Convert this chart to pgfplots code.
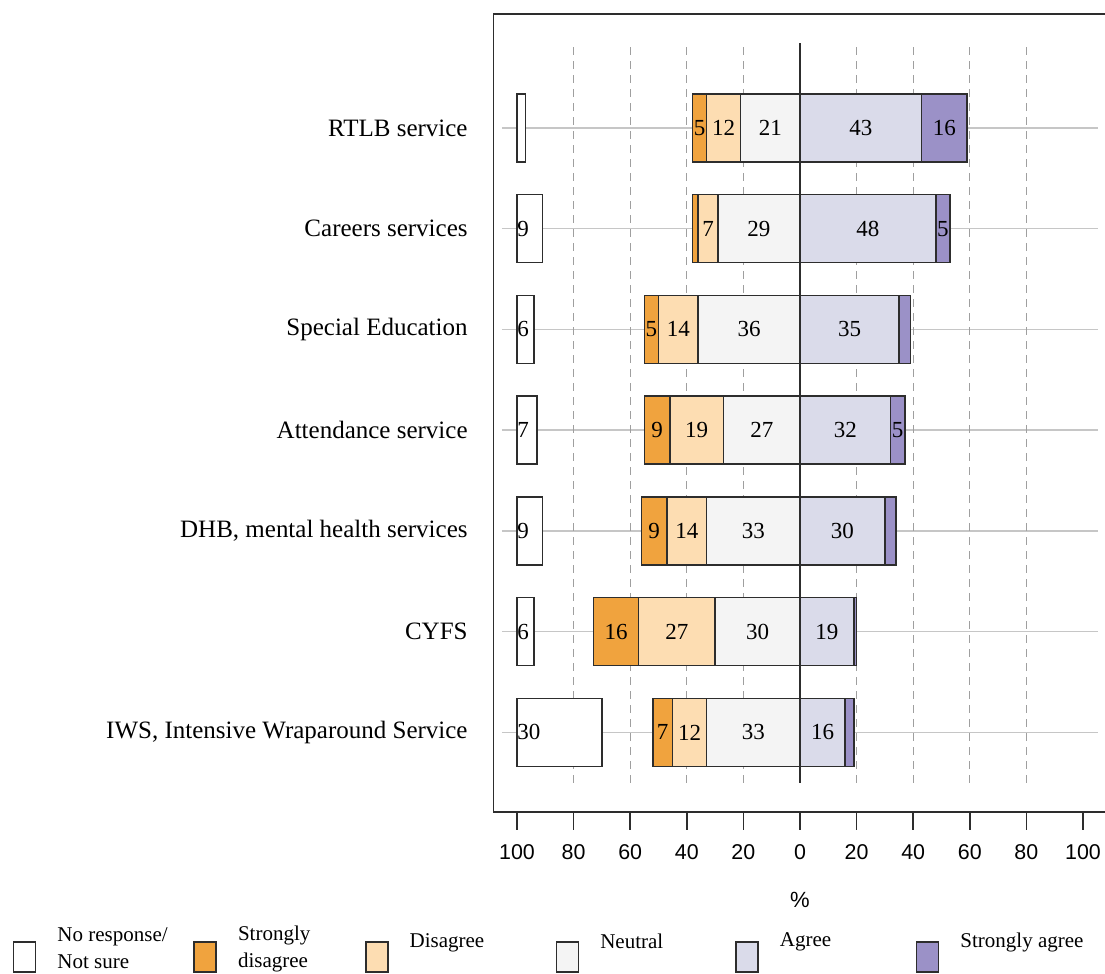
\documentclass[border=0pt]{standalone}
\usepackage{fontspec}
\setmainfont{Liberation Serif}
\setsansfont{Liberation Sans}
\usepackage{pgfplots}
\pgfplotsset{compat=1.18}
\usepackage{pgfplotstable}
\usetikzlibrary{calc}

\definecolor{sdis}{RGB}{240,163,62}
\definecolor{dis}{RGB}{253,221,178}
\definecolor{neu}{RGB}{244,244,244}
\definecolor{agr}{RGB}{218,219,234}
\definecolor{sagr}{RGB}{155,145,199}
\definecolor{edge}{RGB}{45,45,45}

% y: RTLB at top (6) down to IWS (0); values in %
\pgfplotstableread{
y NR SD D N A SA
6 3 5 12 21 43 16
5 9 2 7 29 48 5
4 6 5 14 36 35 4
3 7 9 19 27 32 5
2 9 9 14 33 30 4
1 6 16 27 30 19 1
0 30 7 12 33 16 3
}\likert

\tikzset{
  seg/.style={draw=edge, line width=0.8pt, fill=#1},
}
\pgfplotsset{
  frame/.style={at={(0,0)}, anchor=south west, scale only axis,
    width=306.5pt, height=399pt,
    xmin=-108.3, xmax=108.3, ymin=-0.79, ymax=7.13},
  barp/.style={xbar, bar width=0.675, bar shift=0pt, seg=#1},
  lab/.style={draw=none, forget plot, point meta=explicit symbolic,
    nodes near coords={\ifnum\pgfplotspointmeta<5 \else\pgfplotspointmeta\fi},
    nodes near coords align=center,
    every node near coord/.append style={anchor=center, inner sep=0pt,
      font=\fontsize{11.5}{13}\selectfont}},
}

\begin{document}
\begin{tikzpicture}
\begin{axis}[frame, name=ax,
  axis line style={draw=edge, line width=0.8pt},
  xtick={-100,-80,...,100},
  xticklabels={100,80,60,40,20,0,20,40,60,80,100},
  xtick align=outside, major tick length=9pt,
  x tick style={draw=edge, line width=0.8pt},
  xtick pos=bottom, ytick pos=left,
  ytick={0,...,6},
  yticklabels={{IWS, Intensive Wraparound Service},CYFS,{DHB, mental health services},
    Attendance service,Special Education,Careers services,RTLB service},
  y tick style={draw=none},
  yticklabel style={inner sep=0pt, xshift=-12.75pt, font=\fontsize{12.5}{15}\selectfont},
  xticklabel style={inner sep=0pt, yshift=-7pt, font=\sffamily\fontsize{10.7}{13}\selectfont},
  /pgf/number format/assume math mode=true,
]
% guide lines
\pgfplotsinvokeforeach{0,...,6}{
  \draw[gray!45, line width=0.8pt] (axis cs:-105.3,#1) -- (axis cs:105.3,#1);
}
\pgfplotsinvokeforeach{-80,-60,-40,-20,20,40,60,80}{
  \draw[gray!75, line width=0.6pt, dash pattern=on 4pt off 3pt] (axis cs:#1,-0.5) -- (axis cs:#1,6.84);
}
% disagree side, drawn from the outermost level inwards
\addplot[barp=sdis] table[x expr=-\thisrow{N}-\thisrow{D}-\thisrow{SD}, y=y] {\likert};
\addplot[barp=dis] table[x expr=-\thisrow{N}-\thisrow{D}, y=y] {\likert};
\addplot[barp=neu] table[x expr=-\thisrow{N}, y=y] {\likert};
% agree side
\addplot[barp=sagr] table[x expr=\thisrow{A}+\thisrow{SA}, y=y] {\likert};
\addplot[barp=agr] table[x=A, y=y] {\likert};
\draw[edge, line width=0.8pt] (axis cs:0,-0.5) -- (axis cs:0,6.84);
\end{axis}

% no response / not sure: same frame shifted so that 0 sits at -100
\begin{axis}[frame, hide axis, xmin=-8.3, xmax=208.3]
\addplot[barp=white] table[x=NR, y=y] {\likert};
\end{axis}

\begin{axis}[frame, hide axis,
  legend columns=6, legend cell align=left,
  legend image code/.code={\draw[#1] (0pt,-15pt) rectangle (11pt,0pt); \path (0pt,9pt);},
  legend style={draw=none, fill=none, inner sep=0pt,
    at={(axis description cs:-0.7847,-0.1704)}, anchor=west,
    column sep=0pt, /tikz/every odd column/.append style={column sep=10.5pt},
    nodes={inner sep=0pt, font=\fontsize{10.5}{13.5}\selectfont}},
]
\addplot[lab, every node near coord/.append style={anchor=west}] table[x expr=-100, y=y, meta=NR] {\likert};
\addplot[lab] table[x expr=-\thisrow{N}/2, y=y, meta=N] {\likert};
\addplot[lab] table[x expr=-\thisrow{N}-\thisrow{D}/2, y=y, meta=D] {\likert};
\addplot[lab] table[x expr=-\thisrow{N}-\thisrow{D}-\thisrow{SD}/2, y=y, meta=SD] {\likert};
\addplot[lab] table[x expr=\thisrow{A}/2, y=y, meta=A] {\likert};
\addplot[lab] table[x expr=\thisrow{A}+\thisrow{SA}/2, y=y, meta=SA] {\likert};

\addlegendimage{seg=white}
\addlegendentry{\parbox{68pt}{\raggedright No response/\\Not sure}}
\addlegendimage{seg=sdis}
\addlegendentry{\parbox{63.5pt}{\raggedright Strongly\\disagree}}
\addlegendimage{seg=dis}
\addlegendentry{\parbox{73pt}{\raggedright Disagree}}
\addlegendimage{seg=neu}
\addlegendentry{\parbox{67.5pt}{\raggedright Neutral}}
\addlegendimage{seg=agr}
\addlegendentry{\parbox{68pt}{\raggedright Agree}}
\addlegendimage{seg=sagr}
\addlegendentry{Strongly agree}
\end{axis}

\node[font=\sffamily\fontsize{11}{13}\selectfont] at ($(ax.south)+(0,-44pt)$) {\%};

\pgfresetboundingbox
\path[use as bounding box] ($(ax.south west)+(-246.75pt,-81pt)$) rectangle ($(ax.south west)+(305.75pt,406pt)$);
\end{tikzpicture}
\end{document}
